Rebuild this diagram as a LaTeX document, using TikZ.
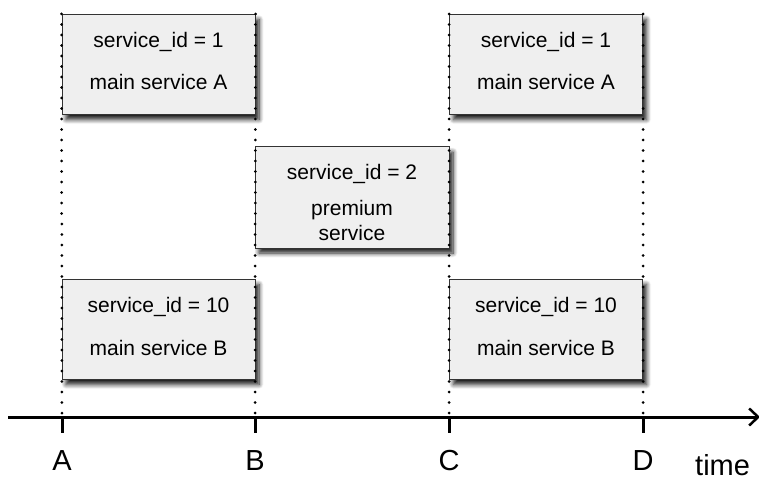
\documentclass[tikz,border=0pt]{standalone}
\usepackage{fontspec}
\setmainfont{Liberation Sans}
\usetikzlibrary{shadows.blur,arrows.meta,positioning}
\definecolor{boxfill}{HTML}{EFEFEF}
\definecolor{boxline}{HTML}{333333}
\tikzset{
  svcbox/.style={draw=boxline, line width=1pt, fill=boxfill, rectangle,
    minimum width=193pt, minimum height=100pt, inner sep=0pt,
    blur shadow={shadow xshift=4pt, shadow yshift=-5pt, shadow blur steps=8, shadow opacity=90, shadow blur radius=4.5pt}},
  boxtext/.style={font=\fontsize{21}{25}\selectfont, inner sep=0pt, align=center, text=black},
  dots/.style={line width=3pt, line cap=round, dash pattern=on 0pt off 10.5pt, black},
  axisline/.style={line width=3pt},
  tick/.style={line width=3pt},
  letter/.style={font=\fontsize{29}{32}\selectfont, inner sep=0pt}
}
\begin{document}
\begin{tikzpicture}[x=1pt,y=-1pt]
\useasboundingbox (0,0) rectangle (759,481);
% boxes
\node[svcbox] (a1) at (158.5,64.5) {};
\node[svcbox] (c1) at (546,64.5) {};
\node[svcbox, minimum width=194pt, minimum height=101pt] (p) at (352,197.5) {};
\node[svcbox] (a2) at (158.5,329.5) {};
\node[svcbox] (c2) at (546,329.5) {};
% texts
\node[boxtext] (a1t1) at ([yshift=-28pt]a1.north) {service\_id = 1};
\node[boxtext] (a1t2) at ([yshift=-68pt]a1.north) {main service A};
\node[boxtext] (c1t1) at ([yshift=-28pt]c1.north) {service\_id = 1};
\node[boxtext] (c1t2) at ([yshift=-68pt]c1.north) {main service A};
\node[boxtext] (pt1) at ([yshift=-27pt]p.north) {service\_id = 2};
\node[boxtext] (pt2) at ([yshift=-74pt]p.north) {premium\\service};
\node[boxtext] (a2t1) at ([yshift=-28pt]a2.north) {service\_id = 10};
\node[boxtext] (a2t2) at ([yshift=-69pt]a2.north) {main service B};
\node[boxtext] (c2t1) at ([yshift=-28pt]c2.north) {service\_id = 10};
\node[boxtext] (c2t2) at ([yshift=-69pt]c2.north) {main service B};
% axis
\coordinate (ax0) at (8,417);
\coordinate (ax1) at (760,417);
\coordinate (tA) at (62,417);
\coordinate (tB) at (255,417);
\coordinate (tC) at (449,417);
\coordinate (tD) at (643,417);
\draw[axisline, -{Straight Barb[length=9pt,width=17pt,line width=2.5pt]}] (ax0) -- (ax1);
% dotted guides
\draw[dots] (a1.north west) -- (tA);
\draw[dots] (a1.north east) -- (tB);
\draw[dots] (c1.north west) -- (tC);
\draw[dots] (c1.north east) -- (tD);
% ticks
\foreach \t in {tA,tB,tC,tD} \draw[tick] (\t) -- ++(0,16);
% labels
\node[letter] (lA) at (62,461) {A};
\node[letter] (lB) at (255,461) {B};
\node[letter] (lC) at (449,461) {C};
\node[letter] (lD) at (643,461) {D};
\node[letter, anchor=base west] (time) at (695,475) {time};
\end{tikzpicture}
\end{document}
